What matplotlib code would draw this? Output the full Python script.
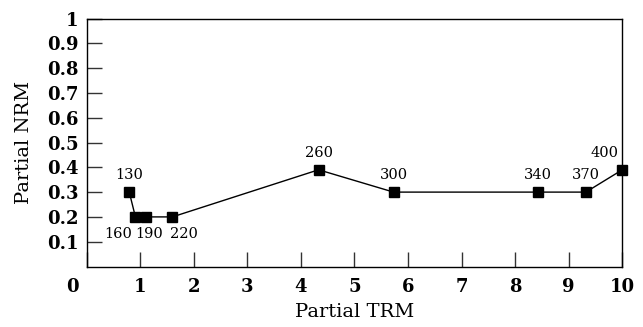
import matplotlib
matplotlib.use("Agg")
import matplotlib.pyplot as plt
from matplotlib.transforms import ScaledTranslation

trm = [0.795, 0.91, 1.10, 1.60, 4.33, 5.73, 8.43, 9.32, 10.0]
nrm = [0.30, 0.20, 0.20, 0.20, 0.39, 0.30, 0.30, 0.30, 0.39]
temps = ["130", "160", "190", "220", "260", "300", "340", "370", "400"]
xticks = [0, 1, 2, 3, 4, 5, 6, 7, 8, 9, 10]
yticks = [0.1, 0.2, 0.3, 0.4, 0.5, 0.6, 0.7, 0.8, 0.9, 1.0]
ytick_labels = ["0.1", "0.2", "0.3", "0.4", "0.5", "0.6", "0.7", "0.8", "0.9", "1"]

plt.rcParams['font.family'] = ['DejaVu Serif']

fig = plt.figure(figsize=(6.43, 3.27), dpi=100)
ax = fig.add_axes([0.1348, 0.185, 0.833, 0.7584])

ax.plot(trm, nrm, color='black', lw=1.0, marker='s', markersize=6.5,
        markerfacecolor='black', markeredgecolor='black', clip_on=False, zorder=3)

# label offsets (points): (dx, dy, ha, va)
offs = {
    "130": (0, 7, 'center', 'bottom'),
    "160": (-2.5, -7, 'right', 'top'),
    "190": (2.5, -7, 'center', 'top'),
    "220": (8.5, -7, 'center', 'top'),
    "260": (0, 7, 'center', 'bottom'),
    "300": (0, 7, 'center', 'bottom'),
    "340": (0, 7, 'center', 'bottom'),
    "370": (0, 7, 'center', 'bottom'),
    "400": (-3, 7, 'right', 'bottom'),
}
for x, y, t in zip(trm, nrm, temps):
    dx, dy, ha, va = offs[t]
    ax.annotate(t, (x, y), xytext=(dx, dy), textcoords='offset points',
                ha=ha, va=va, fontsize=10.5)

ax.set_xlim(0, 10)
ax.set_ylim(0, 1)
ax.set_xticks(xticks)
ax.set_xticklabels([str(v) for v in xticks], fontsize=13, fontweight='bold')
ax.set_yticks(yticks)
ax.set_yticklabels(ytick_labels, fontsize=13, fontweight='bold')
ax.tick_params(direction='in', length=11, width=1.0, color='#333333', pad=6)
ax.tick_params(axis='x', pad=8)
lab0 = ax.get_xticklabels()[0]
lab0.set_transform(lab0.get_transform() + ScaledTranslation(-10 / 72, 0, fig.dpi_scale_trans))
for s in ax.spines.values():
    s.set_linewidth(1.0)

ax.set_xlabel("Partial TRM", fontsize=14, labelpad=5)
ax.set_ylabel("Partial NRM", fontsize=14, labelpad=10)

fig.savefig("out.png", dpi=100)
